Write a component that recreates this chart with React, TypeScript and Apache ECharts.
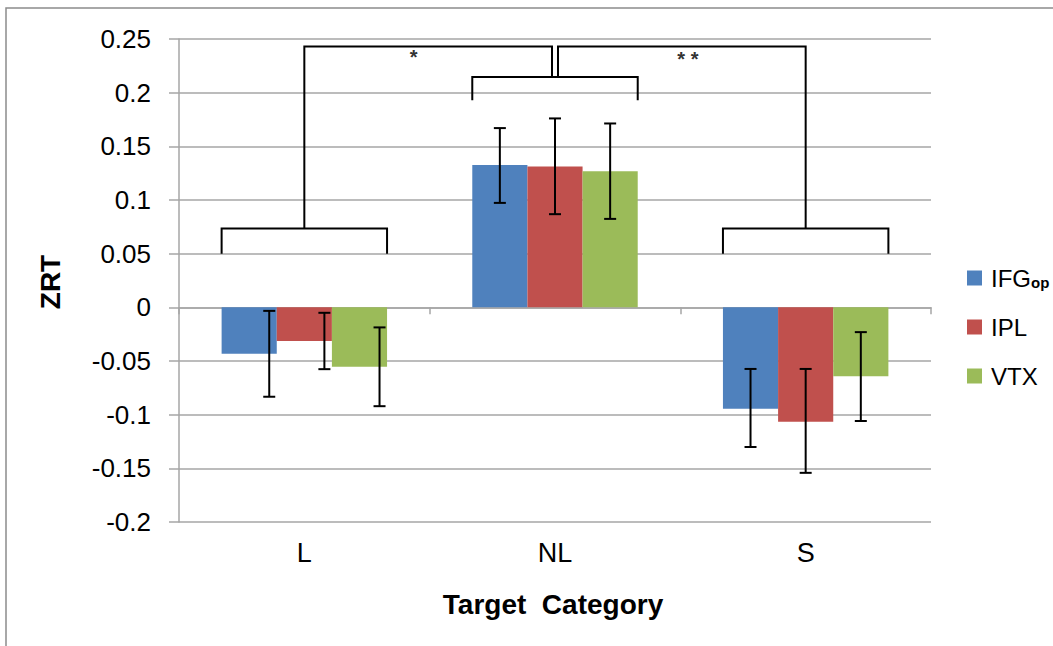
import React, { useEffect, useRef } from 'react';
import * as echarts from 'echarts';

// ---- data ----
const categories = ['L', 'NL', 'S'];
const seriesNames = ['IFGop', 'IPL', 'VTX'];
const ifgValues = [-0.0433, 0.1327, -0.0946];
const iplValues = [-0.0314, 0.1312, -0.1067];
const vtxValues = [-0.0554, 0.1269, -0.0641];
const ifgErrLow = [-0.0833, 0.0973, -0.1301];
const ifgErrHigh = [-0.0033, 0.167, -0.0574];
const iplErrLow = [-0.0576, 0.0868, -0.1542];
const iplErrHigh = [-0.0051, 0.176, -0.0574];
const vtxErrLow = [-0.0921, 0.0824, -0.1059];
const vtxErrHigh = [-0.0187, 0.1713, -0.0231];
const yTickValues = [-0.2, -0.15, -0.1, -0.05, 0, 0.05, 0.1, 0.15, 0.2, 0.25];
const yTickLabels = ['-0.2', '-0.15', '-0.1', '-0.05', '0', '0.05', '0.1', '0.15', '0.2', '0.25'];

// significance brackets (data units)
const groupBracketCats = [0, 2];
const groupBracketFoot = 0.05;
const groupBracketTop = 0.0735;
const midBracketCat = 1;
const midBracketFoot = 0.193;
const midBracketTop = 0.2145;
const outerBracketTop = 0.243;
const sigLabels = ['*', '* *'];
const sigLabelCat = [0.436, 1.53];
const sigLabelY = [0.2335, 0.231];

// ---- layout / style ----
const colors = ['#4F81BD', '#C0504D', '#9BBB59'];
const barCategoryGap = 0.34;
const errorBarShift = [0.08, 0, 0]; // horizontal shift of error bars, in band units
const FONT = '"Liberation Sans", Arial, sans-serif';

const valuesList = [ifgValues, iplValues, vtxValues];
const lowList = [ifgErrLow, iplErrLow, vtxErrLow];
const highList = [ifgErrHigh, iplErrHigh, vtxErrHigh];

export default function App() {
  const ref = useRef<HTMLDivElement>(null);
  useEffect(() => {
    const chart = echarts.init(ref.current!, undefined, { renderer: 'svg' });

    const errData: number[][] = [];
    for (let s = 0; s < 3; s++) {
      for (let c = 0; c < categories.length; c++) {
        errData.push([c, lowList[s][c], highList[s][c], s]);
      }
    }

    const lineStyle = { stroke: '#000', lineWidth: 2 };

    const option: any = {
      animation: false,
      backgroundColor: '#fff',
      grid: { left: 179, right: 122, top: 39, bottom: 124, containLabel: false },
      legend: {
        data: seriesNames,
        orient: 'vertical',
        left: 967,
        top: 266,
        itemWidth: 15,
        itemHeight: 15,
        itemGap: 25,
        padding: 0,
        icon: 'rect',
        formatter: (name: string) => (name === 'IFGop' ? 'IFG{sub|op}' : name),
        textStyle: {
          fontFamily: FONT,
          fontSize: 24,
          color: '#000',
          padding: [0, 0, 0, 4],
          rich: {
            sub: { fontFamily: FONT, fontSize: 15, fontWeight: 'bold', color: '#000', padding: [8, 0, 0, 0] },
          },
        },
      },
      xAxis: [
        {
          type: 'category',
          data: categories,
          position: 'bottom',
          axisLine: { show: false, onZero: false },
          axisTick: { show: false },
          axisLabel: { fontFamily: FONT, fontSize: 27, color: '#000', margin: 17 },
          splitLine: { show: false },
        },
        {
          type: 'category',
          data: categories,
          position: 'bottom',
          axisLine: { show: true, onZero: true, lineStyle: { color: '#A6A6A6', width: 1.5 } },
          axisTick: { show: true, length: 7, lineStyle: { color: '#A6A6A6', width: 1.5 } },
          axisLabel: { show: false },
          splitLine: { show: false },
        },
      ],
      yAxis: {
        type: 'value',
        min: yTickValues[0],
        max: yTickValues[yTickValues.length - 1],
        interval: 0.05,
        axisLine: { show: true, lineStyle: { color: '#A6A6A6', width: 1.5 } },
        axisTick: { show: true, length: 10, lineStyle: { color: '#A6A6A6', width: 1.5 } },
        splitLine: { show: true, lineStyle: { color: '#A6A6A6', width: 1.5 } },
        axisLabel: {
          fontFamily: FONT,
          fontSize: 26,
          color: '#000',
          margin: 28,
          formatter: (v: number) => {
            let best = 0;
            for (let i = 0; i < yTickValues.length; i++) {
              if (Math.abs(yTickValues[i] - v) < Math.abs(yTickValues[best] - v)) best = i;
            }
            return yTickLabels[best];
          },
        },
      },
      graphic: [
        {
          type: 'polyline',
          shape: { points: [[6, 700], [6, 8], [1100, 8]] },
          style: { stroke: '#8C8C8C', lineWidth: 1.5, fill: 'none' },
          silent: true,
        },
        {
          type: 'text',
          x: 50,
          y: 282,
          rotation: Math.PI / 2,
          style: { text: 'ZRT', align: 'center', verticalAlign: 'middle', fontFamily: FONT, fontSize: 28, fontWeight: 'bold', fill: '#000' },
        },
        {
          type: 'text',
          x: 553,
          y: 604,
          style: { text: 'Target  Category', align: 'center', verticalAlign: 'middle', fontFamily: FONT, fontSize: 28, fontWeight: 'bold', fill: '#000' },
        },
      ],
      series: [
        ...seriesNames.map((name, s) => ({
          name,
          type: 'bar',
          xAxisIndex: 0,
          data: valuesList[s],
          barGap: '0%',
          barCategoryGap: `${barCategoryGap * 100}%`,
          itemStyle: { color: colors[s] },
          z: 2,
        })),
        {
          name: 'errors',
          type: 'custom',
          xAxisIndex: 0,
          data: errData,
          encode: { x: 0, y: [1, 2] },
          z: 5,
          renderItem: (params: any, api: any) => {
            const cat = api.value(0);
            const lo = api.value(1);
            const hi = api.value(2);
            const s = api.value(3);
            const band = api.size([1, 0])[0];
            const bw = (band * (1 - barCategoryGap)) / 3;
            const c = api.coord([cat, 0]);
            const x = c[0] + (s - 1) * bw + errorBarShift[cat] * band;
            const yLo = api.coord([cat, lo])[1];
            const yHi = api.coord([cat, hi])[1];
            const cap = 6;
            return {
              type: 'group',
              children: [
                { type: 'line', shape: { x1: x, y1: yLo, x2: x, y2: yHi }, style: lineStyle },
                { type: 'line', shape: { x1: x - cap, y1: yHi, x2: x + cap, y2: yHi }, style: lineStyle },
                { type: 'line', shape: { x1: x - cap, y1: yLo, x2: x + cap, y2: yLo }, style: lineStyle },
              ],
            };
          },
        },
        {
          name: 'brackets',
          type: 'custom',
          xAxisIndex: 0,
          data: [[1, outerBracketTop]],
          encode: { x: 0, y: 1 },
          z: 6,
          renderItem: (params: any, api: any) => {
            const band = api.size([1, 0])[0];
            const half = (band * (1 - barCategoryGap)) / 2;
            const X = (cat: number) => api.coord([cat, 0])[0];
            const Y = (v: number) => api.coord([0, v])[1];
            const children: any[] = [];
            const st = { stroke: '#000', lineWidth: 2, fill: 'none' };
            groupBracketCats.forEach((cat) => {
              const cx = X(cat);
              children.push({
                type: 'polyline',
                shape: { points: [[cx - half, Y(groupBracketFoot)], [cx - half, Y(groupBracketTop)], [cx + half, Y(groupBracketTop)], [cx + half, Y(groupBracketFoot)]] },
                style: st,
              });
            });
            const mx = X(midBracketCat);
            children.push({
              type: 'polyline',
              shape: { points: [[mx - half, Y(midBracketFoot)], [mx - half, Y(midBracketTop)], [mx + half, Y(midBracketTop)], [mx + half, Y(midBracketFoot)]] },
              style: st,
            });
            const lx = X(groupBracketCats[0]);
            const rx = X(groupBracketCats[1]);
            children.push({
              type: 'polyline',
              shape: { points: [[lx, Y(groupBracketTop)], [lx, Y(outerBracketTop)], [mx - 3, Y(outerBracketTop)], [mx - 3, Y(midBracketTop)]] },
              style: st,
            });
            children.push({
              type: 'polyline',
              shape: { points: [[mx + 3, Y(midBracketTop)], [mx + 3, Y(outerBracketTop)], [rx, Y(outerBracketTop)], [rx, Y(groupBracketTop)]] },
              style: st,
            });
            sigLabels.forEach((t, i) => {
              const base = X(0);
              children.push({
                type: 'text',
                x: base + sigLabelCat[i] * band,
                y: Y(sigLabelY[i]),
                style: { text: t, align: 'center', verticalAlign: 'middle', fontFamily: FONT, fontSize: 20, fontWeight: 'bold', fill: '#333' },
              });
            });
            return { type: 'group', children };
          },
        },
      ],
    };
    chart.setOption(option);
    return () => chart.dispose();
  }, []);
  return <div ref={ref} style={{ position: 'fixed', left: 0, top: 0, width: 1053, height: 646 }} />;
}
